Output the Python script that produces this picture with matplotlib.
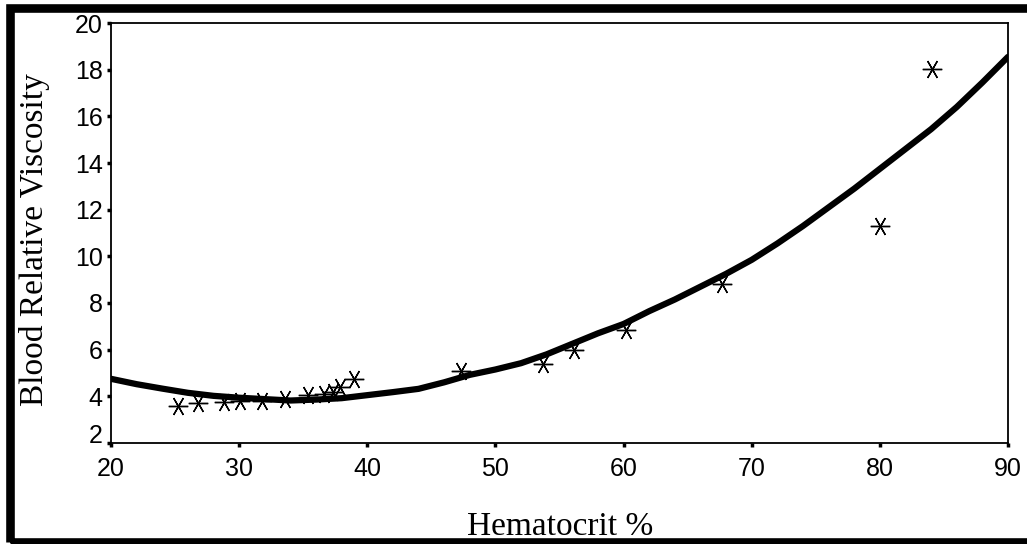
import numpy as np
import matplotlib.pyplot as plt
import matplotlib.transforms as mtransforms
from matplotlib.patches import Rectangle

# measured hematocrit (%) and relative viscosity
hct = [25.2, 26.8, 28.8, 30.1, 31.8, 33.6, 35.4, 36.6, 37.3, 37.9, 39.0,
       47.3, 53.7, 56.1, 60.2, 67.7, 80.0, 84.1]
visc = [3.6, 3.7, 3.75, 3.8, 3.8, 3.9, 4.05, 4.1, 4.2, 4.4, 4.75,
        5.1, 5.4, 6.0, 6.85, 8.8, 11.3, 18.05]

# fitted trend
fit_x = [20, 22, 24, 26, 28, 30, 32, 34, 36, 38, 40, 42, 44, 46, 48, 50, 52, 54,
         56, 58, 60, 62, 64, 66, 68, 70, 72, 74, 76, 78, 80, 82, 84, 86, 88, 90]
fit_y = [4.75, 4.52, 4.33, 4.15, 4.02, 3.94, 3.88, 3.82, 3.86, 3.92, 4.05, 4.18,
         4.32, 4.6, 4.92, 5.15, 5.42, 5.8, 6.25, 6.7, 7.1, 7.65, 8.15, 8.7, 9.25,
         9.85, 10.55, 11.3, 12.1, 12.9, 13.75, 14.6, 15.45, 16.4, 17.45, 18.55]

xticks = [20, 30, 40, 50, 60, 70, 80, 90]
yticks = [2, 4, 6, 8, 10, 12, 14, 16, 18, 20]

fig = plt.figure(figsize=(10.27, 5.44), dpi=100)
ax = fig.add_axes([0.1081, 0.1857, 0.8734, 0.772])

ax.plot(fit_x, fit_y, color='black', lw=4.5, solid_capstyle='round', zorder=2)
ax.plot(hct, visc, linestyle='none', marker=(6, 2, 90), markersize=14,
        markeredgewidth=1.0, color='black', zorder=3)

ax.set_xlim(20, 90)
ax.set_ylim(2, 20)
ax.set_xticks(xticks)
ax.set_yticks(yticks)
ax.tick_params(direction='out', length=3, width=2.5, labelsize=18)
ax.tick_params(axis='x', pad=7)
ax.tick_params(axis='y', pad=3)
for lab in ax.get_xticklabels() + ax.get_yticklabels():
    lab.set_family('Liberation Sans')
for s in ax.spines.values():
    s.set_linewidth(1.3)

# lift the bottom y label clear of the x labels
lab0 = ax.get_yticklabels()[0]
lab0.set_transform(lab0.get_transform() +
                   mtransforms.ScaledTranslation(0, 0.09, fig.dpi_scale_trans))

fig.text(0.545, 0.0165, 'Hematocrit %', family='Liberation Serif', fontsize=24,
         ha='center', va='baseline')
fig.text(0.034, 0.56, 'Blood Relative Viscosity', family='Liberation Serif',
         fontsize=24, rotation=90, ha='center', va='center')

# heavy outer frame
fig.patches.append(Rectangle((9.5 / 1027, 2.5 / 544), 1.2, 533.5 / 544,
                             transform=fig.transFigure, fill=False,
                             edgecolor='black', lw=6.2))

fig.savefig('out.png', dpi=100)
